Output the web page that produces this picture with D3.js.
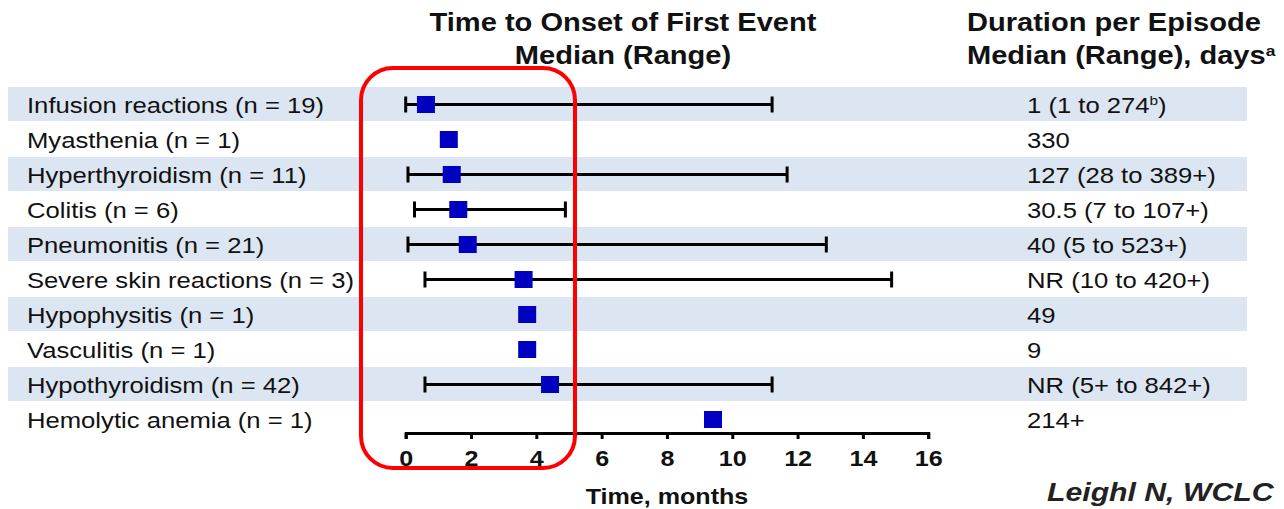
<!DOCTYPE html>
<html>
<head>
<meta charset="utf-8">
<script src="https://cdn.jsdelivr.net/npm/d3@7"></script>
<style>
  html, body { margin: 0; padding: 0; background: #fff; }
  svg { display: block; }
  text { font-family: "Liberation Sans", Arial, Helvetica, sans-serif; }
</style>
</head>
<body>
<svg id="chart" width="1284" height="509"></svg>
<script>
// ---------------- data ----------------
const categories = ["Infusion reactions", "Myasthenia", "Hyperthyroidism", "Colitis", "Pneumonitis",
  "Severe skin reactions", "Hypophysitis", "Vasculitis", "Hypothyroidism", "Hemolytic anemia"];
const counts = [19, 1, 11, 6, 21, 3, 1, 1, 42, 1];
const medians = [0.62, 1.32, 1.41, 1.61, 1.90, 3.61, 3.72, 3.72, 4.42, 9.41];
const lows = [0.0, null, 0.07, 0.27, 0.07, 0.59, null, null, 0.59, null];
const highs = [11.22, null, 11.68, 4.89, 12.88, 14.88, null, null, 11.22, null];
// "^x^" marks a superscript
const durations = ["1 (1 to 274^b^)", "330", "127 (28 to 389+)", "30.5 (7 to 107+)", "40 (5 to 523+)",
  "NR (10 to 420+)", "49", "9", "NR (5+ to 842+)", "214+"];
const xTicks = [0, 2, 4, 6, 8, 10, 12, 14, 16];
const titleMid = ["Time to Onset of First Event", "Median (Range)"];
const titleRight = ["Duration per Episode", "Median (Range), days^a^"];
const xLabel = "Time, months";
const credit = "Leighl N, WCLC";

// ---------------- layout ----------------
const SX = 1.14; // horizontal text stretch seen in the slide
const svg = d3.select("#chart");
const x = d3.scaleLinear().domain([0, 16]).range([405.7, 928.2]);
const y = d3.scaleBand().domain(categories).range([87, 437]).padding(0);
const cy = c => y(c) + y.bandwidth() / 2;

function stretchedText(g, tx, ty, str, opts) {
  const t = g.append("text")
    .attr("transform", `translate(${tx},${ty}) scale(${SX},1)`)
    .attr("text-anchor", opts.anchor || "start")
    .attr("font-size", opts.size)
    .attr("font-weight", opts.weight || "normal")
    .attr("font-style", opts.style || "normal")
    .attr("fill", opts.fill || "#000");
  const parts = str.split("^");
  parts.forEach((p, k) => {
    if (p === "") return;
    const sup = k % 2 === 1;
    const ts = t.append("tspan").text(p);
    if (sup) ts.attr("font-size", opts.size * 0.6).attr("baseline-shift", "super");
  });
  return t;
}

// bands
svg.append("g").selectAll("rect")
  .data(categories.filter((d, i) => i % 2 === 0))
  .join("rect")
  .attr("x", 8).attr("width", 1239)
  .attr("y", d => y(d)).attr("height", y.bandwidth() - 1)
  .attr("fill", "#dce6f2");

// row labels
const gl = svg.append("g");
categories.forEach((c, i) => {
  stretchedText(gl, 27, cy(c) + 8, `${c} (n = ${counts[i]})`, { size: 22.5, fill: "#111" });
});

// duration values
const gd = svg.append("g");
categories.forEach((c, i) => {
  stretchedText(gd, 1027, cy(c) + 8, durations[i], { size: 22.5, fill: "#111" });
});

// error bars
const ge = svg.append("g").attr("stroke", "#000").attr("stroke-width", 3);
categories.forEach((c, i) => {
  if (lows[i] == null) return;
  const yy = cy(c);
  ge.append("line").attr("x1", x(lows[i])).attr("x2", x(highs[i])).attr("y1", yy).attr("y2", yy);
  [lows[i], highs[i]].forEach(v => {
    ge.append("line").attr("x1", x(v)).attr("x2", x(v)).attr("y1", yy - 8).attr("y2", yy + 8);
  });
});

// median squares
svg.append("g").selectAll("rect")
  .data(categories)
  .join("rect")
  .attr("x", (d, i) => x(medians[i]) - 9)
  .attr("y", d => cy(d) - 8.5)
  .attr("width", 18).attr("height", 17)
  .attr("fill", "#0000c0");

// axis
const axis = svg.append("g")
  .attr("transform", "translate(0,433)")
  .call(d3.axisBottom(x).tickValues(xTicks).tickSize(6).tickSizeOuter(6).tickFormat(d3.format("d")));
axis.select(".domain").attr("stroke", "#000").attr("stroke-width", 3);
axis.selectAll(".tick line").attr("stroke", "#000").attr("stroke-width", 3);
axis.selectAll(".tick text")
  .attr("y", 33).attr("dy", 0)
  .attr("transform", `scale(${SX},1)`)
  .attr("font-size", 22).attr("font-weight", "bold").attr("fill", "#111")
  .attr("font-family", "'Liberation Sans', Arial, sans-serif");

// x label
stretchedText(svg, 667, 504, xLabel, { size: 22, weight: "bold", anchor: "middle", fill: "#111" });

// titles
stretchedText(svg, 623, 31, titleMid[0], { size: 25.5, weight: "bold", anchor: "middle", fill: "#111" });
stretchedText(svg, 623, 64, titleMid[1], { size: 25.5, weight: "bold", anchor: "middle", fill: "#111" });
stretchedText(svg, 967, 31, titleRight[0], { size: 25.5, weight: "bold", fill: "#111" });
stretchedText(svg, 967, 64, titleRight[1], { size: 25.5, weight: "bold", fill: "#111" });

// credit
stretchedText(svg, 1047, 501, credit, { size: 26.5, weight: "bold", style: "italic", fill: "#222" });

// red highlight box
svg.append("rect")
  .attr("x", 361).attr("y", 68).attr("width", 214).attr("height", 400)
  .attr("rx", 32).attr("ry", 32)
  .attr("fill", "none").attr("stroke", "#ff0000").attr("stroke-width", 4);
</script>
</body>
</html>
